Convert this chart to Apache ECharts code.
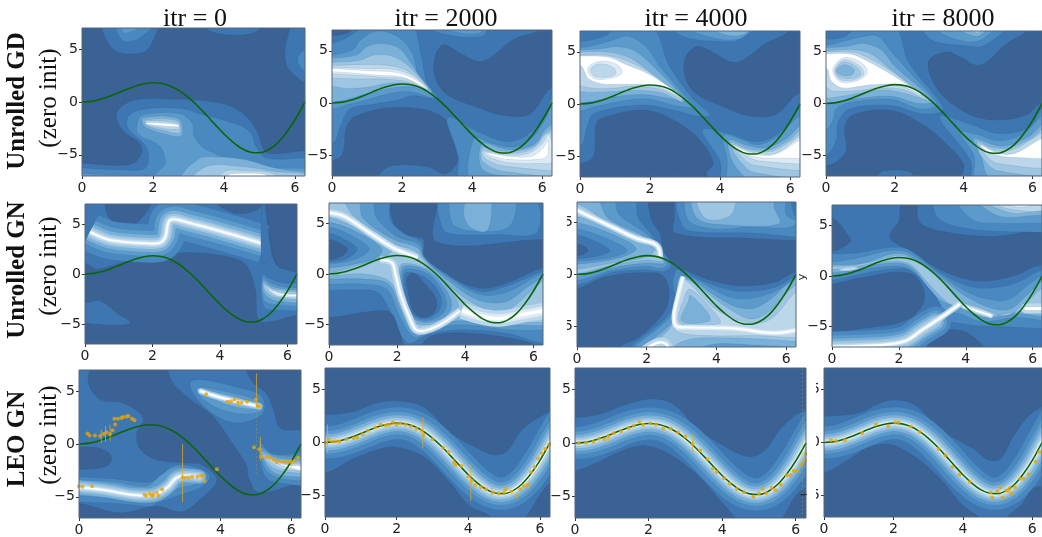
<!DOCTYPE html>
<html><head><meta charset="utf-8">
<style>html,body{margin:0;padding:0;background:#fff;overflow:hidden}#c{width:1042px;height:537px}</style>
<script src="https://cdn.jsdelivr.net/npm/echarts@6/dist/echarts.min.js"></script>
</head><body><div id="c"></div>
<script>
const columnTitles = ['itr = 0','itr = 2000','itr = 4000','itr = 8000'];
const xTicks = [0,2,4,6];
const yTicks = [-5,0,5];
const curveX = [0,.25,.5,.75,1,1.25,1.5,1.75,2,2.25,2.5,2.75,3,3.25,3.5,3.75,4,4.25,4.5,4.75,5,5.25,5.5,5.75,6,6.28];
const curveY = [0,.06,.24,.51,.84,1.19,1.5,1.72,1.82,1.75,1.5,1.05,.42,-.35,-1.23,-2.14,-3.03,-3.79,-4.4,-4.75,-4.8,-4.52,-3.9,-2.92,-1.68,0];
const curvePath = [[-.5,-.2]].concat(curveX.map((x,i)=>[x,curveY[i]]),[[6.9,3.6]]);
const all = [[-2,-9],[8,-9],[8,9],[-2,9]];

// contour regions per panel: [level, outline] or [level, ridge path, thickness in y units]
const gdItr0 = [
 [1,[[.6,7.5],[.92,4.9],[1.72,4.7],[2,5.8],[2.1,7.5]]],
 [2,[[.97,7.5],[1.15,5.8],[1.6,6],[2,7.5]]],
 [3,[[1.1,7.5],[1.2,6.5],[1.8,7.5]]],
 [1,[[3.3,7.5],[3.8,6.5],[4.8,6.5],[5.1,7.5]]],
 [1,[[6,7.5],[5.75,5.5],[5.75,3.6],[6,2.5],[6.28,1.9],[7,1.9],[7,7.5]]],
 [2,[[6.28,4.9],[6.08,4.2],[6.13,3.4],[6.28,3],[7,3],[7,4.9]]],
 [1,[[-1,-5.8],[0,-5.8],[.87,-6],[1.44,-5.8],[1.67,-4.9],[1.62,-3.9],[1.15,-2.7],[.97,-1.1],[1.44,.15],[2.66,.25],[3.7,0],[4.25,-.5],[4.72,-1.7],[4.96,-3],[5.1,-4.4],[5.3,-4.9],[6.28,-4.6],[7,-4.5],[7,-8],[-1,-8]]],
 [2,[[-1,-6.4],[.97,-6.4],[1.7,-6.4],[1.86,-5.8],[1.8,-4.2],[1.3,-2.5],[1.3,-1.4],[1.7,-.7],[2.75,-.6],[3.3,-1.1],[4.44,-2.2],[4.77,-3],[4.9,-4.2],[5.2,-5.3],[6.28,-5.3],[7,-5.3],[7,-8],[-1,-8]]],
 [3,[[-1,-6.9],[2,-6.9],[2.2,-6.4],[2.35,-5.8],[2.2,-4.2],[1.58,-3],[1.58,-1.7],[1.72,-1.2],[2.75,-1.1],[3.1,-2],[3.17,-3.3],[3.5,-4.5],[4.8,-6],[6.28,-6.3],[7,-6.3],[7,-8],[-1,-8]]],
 [4,[[3.2,-5.6],[3.4,-5.2],[4.5,-5.4],[5.5,-6.3],[6.3,-6.6],[7,-6.8],[7,-8],[2.7,-8],[2.95,-6.3]]],
 [5,[[3.5,-6.1],[4.5,-6.1],[5.5,-6.6],[6.3,-6.9],[6.3,-8],[3,-8]]],
 [6,[[4,-6.6],[4.6,-6.5],[5.4,-6.8],[5.6,-8],[3.8,-8]]],
 [8,[[4.1,-6.9],[4.6,-6.75],[5.2,-6.9],[5.2,-7.5],[4.1,-7.5]]],
 [4,[[1.72,-1.5],[2.72,-1.6],[2.8,-3.2],[2.3,-3],[1.75,-2.3]]],
 [5,[[1.78,-1.7],[2.7,-1.8],[2.75,-2.9],[2.3,-2.7],[1.8,-2.2]]],
 [6,[[1.8,-1.8],[2.7,-2],[2.72,-2.6],[1.85,-2.2]]],
 [8,[[1.82,-1.95],[2.72,-2.15],[2.72,-2.35],[1.82,-2.1]]]
];
const gdItr2000 = [
 [1,all],
 [0,[[3.18,5.6],[2.94,4.4],[2.94,2.5],[3.27,.85],[4.13,-.4],[4.9,-1.2],[5.66,-1.05],[6.28,1.5],[7,1.5],[7,8],[5.95,8],[5.9,7],[5.18,6.1],[4.3,4],[3.65,4.8]]],
 [0,[[-1,-5.5],[0,-5.5],[.3,-4.9],[.41,-2.3],[.7,-1.2],[1.94,-.4],[3.18,-1.4],[3.56,-4.9],[3.56,-5.8],[3.22,-6.8],[2.7,-6.1],[1.75,-6],[1.36,-6.8],[1.3,-8],[-1,-8]]],
 [0,[[-1,8],[.6,8],[.5,6.8],[-.2,6.6]]],
 [2,[[-1,5.7],[0,5.7],[.8,7.1],[.9,8],[2.2,8],[2.55,4.5],[2.7,2],[3,.5],[2.3,.7],[1.9,.3],[1.2,-.1],[.5,-.6],[.27,-2],[0,-3.9],[-1,-3.9]]],
 [3,[[-1,4.6],[0,4.6],[.6,5.1],[.8,6],[1.3,6.9],[1.9,6.3],[2.3,4.7],[2.5,2.2],[2.9,.55],[2.2,1.1],[1.5,.8],[1,.3],[.4,-.2],[0,-.6],[-1,-.6]]],
 [4,[[-1,4.3],[0,4.3],[.7,4.6],[1,5.4],[1.4,5.7],[1.9,5.3],[2.2,4.1],[2.5,2.6],[2.85,1],[2.3,1.55],[1.6,1.4],[1,.9],[.4,.3],[0,.1],[-1,.1]]],
 [5,[[-1,3.9],[0,3.9],[.8,4.1],[1.2,4.6],[1.7,4.5],[2.2,3.5],[2.75,1.3],[2.2,1.85],[1.6,1.9],[1,1.5],[.4,1.4],[0,1.6],[-1,1.6]]],
 [6,[[-1,3.6],[0,3.6],[1,3.7],[1.8,3.5],[2.3,2.8],[2.75,1.25],[2.2,2],[1.5,2.3],[.8,2.3],[0,2.4],[-1,2.4]]],
 [7,[[-1,3.4],[0,3.4],[1,3.3],[1.8,3.2],[2.3,2.6],[2.75,1.3],[2.1,2.3],[1.4,2.5],[.5,2.7],[0,2.8],[-1,2.8]]],
 [8,[[-1,3.3],[0,3.3],[1,3.1],[1.8,2.95],[2.3,2.4],[2.7,1.4],[2.05,2.45],[1.3,2.65],[.5,2.9],[0,3],[-1,3]]],
 [2,[[2.6,7.5],[3.2,6.6],[4.3,6.4],[4.4,7.5]]],
 [3,[[3,7.5],[3.5,6.8],[4.2,6.7],[4.35,7.5]]],
 [2,[[3.3,-1.4],[4.2,-2.8],[5,-3.7],[5.6,-3],[6.1,-1],[6.4,1.5],[7,1.5],[7,-8],[3.7,-8],[3.6,-5]]],
 [3,[[4.05,-8],[4.05,-3.4],[4.6,-3.9],[5.2,-4.2],[5.7,-3.4],[6.1,-1.5],[6.3,-.3],[7,-.3],[7,-8]]],
 [4,[[4.28,-3.9],[4.8,-4.3],[5.2,-4.5],[5.8,-3.9],[6.1,-2.5],[6.4,-2],[7,-2],[7,-7],[5,-7],[4.28,-6.3]]],
 [5,[[4.3,-4.3],[4.8,-4.6],[5.3,-4.6],[5.8,-4.1],[6.05,-3],[6.4,-2.4],[7,-2.4],[7,-6.6],[5,-6.6],[4.3,-5.6]]],
 [6,[[4.3,-4.6],[5,-4.85],[5.6,-4.6],[5.9,-3.9],[6.1,-3],[6.4,-2.8],[7,-2.8],[7,-6.1],[5,-6.1],[4.4,-5.4]]],
 [7,[[4.35,-4.7],[5,-5],[5.6,-4.85],[6,-3.9],[6.2,-3],[6.3,-5.6],[5.9,-5.8],[5,-5.7],[4.5,-5.2]]],
 [8,[[4.4,-4.75],[5,-5.1],[5.7,-5.1],[6.05,-4.2],[6.15,-3.5],[6.15,-5],[5.9,-5.4],[5,-5.4],[4.6,-5.1]]]
];
const gdItr4000 = [
 [1,all],
 [0,[[3.3,5.5],[3,4.4],[3,2.6],[3.3,1],[4.07,-.25],[4.83,-1.15],[5.6,-1],[6.25,1],[7,1],[7,8],[6,8],[5.97,7],[5.3,5.8],[4.45,4],[3.6,5.3]]],
 [0,[[-1,-5.7],[0,-5.7],[.38,-5],[.47,-1.85],[.76,-1.2],[1.9,-.6],[2.84,-1.85],[3.5,-3.75],[3.8,-5.7],[3.6,-6.6],[3.4,-8],[1.4,-8],[1.42,-7],[1.7,-6.3],[2.56,-6.3],[3.6,-6.6],[3.4,-8],[-1,-8]]],
 [2,[[-1,6],[0,6],[.76,6.6],[1,7.5],[2.04,7.5],[2.56,3.6],[3.25,.4],[3.7,-1],[3.4,-1.2],[2.8,-.7],[1.8,-.1],[.4,-.9],[.2,-2.2],[0,-4],[-1,-4]]],
 [3,[[-1,5.4],[0,5.4],[.5,5.7],[.9,6.1],[1.4,6.5],[1.9,5.4],[2.3,3.5],[3.1,.4],[3.25,-.3],[2.8,-.2],[1.8,.5],[.5,-.2],[0,-.7],[-1,-.7]]],
 [4,[[-1,5.2],[0,5.2],[.6,5.3],[1,5.5],[1.5,5.2],[2,3.9],[3,.3],[2.6,.5],[1.8,.9],[1,.7],[.4,.3],[0,.1],[-1,.1]]],
 [5,[[-1,5],[0,5],[.7,5],[1.3,4.6],[1.8,3.6],[2.95,.2],[2.3,1.1],[1.6,1.3],[1,1.2],[.3,1.1],[0,1.2],[-1,1.2]]],
 [6,[[-1,4.7],[0,4.7],[.7,4.7],[1.3,4.2],[2,3],[2.95,.4],[2.3,1.4],[1.5,1.7],[.9,1.5],[.2,1.6],[-1,3]]],
 [8,[[-1,4.6],[0,4.6],[.8,4.5],[1.3,3.8],[2,2.8],[2.9,.7],[2.2,1.7],[1.4,1.9],[.7,1.9],[.25,2.4],[0,3.7],[-1,3.7]]],
 [7,[[.22,3.4],[.55,4.1],[1.05,3.8],[1.2,3],[.9,2.5],[.4,2.45]]],
 [6,[[.3,3.3],[.55,3.85],[.95,3.5],[1.02,2.9],[.8,2.6],[.42,2.65]]],
 [2,[[3.5,-2.5],[4.2,-2.8],[5,-3.6],[5.6,-3],[6.1,-1.2],[6.4,0],[7,0],[7,-8],[4.1,-8],[4,-5.5]]],
 [3,[[4.1,-3],[4.6,-3.4],[5.1,-3.9],[5.7,-3],[6.1,-1.6],[6.4,-1],[7,-1],[7,-8],[4.3,-8],[4.2,-5.3]]],
 [4,[[4.25,-3.5],[4.8,-4],[5.3,-4.2],[5.9,-3.3],[6.4,-1.8],[7,-1.8],[7,-7.5],[5,-7.5],[4.4,-5.8]]],
 [5,[[4.3,-3.7],[4.8,-4.3],[5.4,-4.4],[6,-3.4],[6.4,-2.2],[7,-2.2],[7,-6.6],[5,-6.6],[4.5,-5.2]]],
 [6,[[4.35,-3.9],[4.9,-4.5],[5.5,-4.5],[6.1,-3.4],[6.4,-2.6],[7,-2.6],[7,-6],[5,-5.9],[4.6,-5]]],
 [7,[[4.4,-4],[5,-4.7],[5.6,-4.7],[6.4,-3],[7,-3],[7,-5.4],[5.2,-5.5],[4.7,-4.9]]],
 [8,[[4.5,-4.2],[5,-4.85],[5.6,-4.8],[6.4,-3.3],[7,-3.3],[7,-4.8],[5.4,-5.2],[4.8,-4.9]]],
 [2,[[2.6,7.5],[3,6.4],[4,6],[4.5,6.1],[5,7.5]]],
 [3,[[3,7.5],[3.5,6.6],[4.5,6.2],[4.9,7.5]]],
 [4,[[3.6,7.5],[4.2,6.6],[4.7,6.7],[4.9,7.5]]]
];
const gdItr8000 = [
 [1,all],
 [0,[[3.52,5],[3,4.2],[3.04,2.6],[3.42,.65],[4.2,-1.1],[5,-1.6],[5.83,-1.1],[6.22,0],[7,1],[7,8],[5.85,8],[5.83,7],[5.25,5.8],[4.48,3.7],[3.9,4.5]]],
 [0,[[-1,-6],[0,-6],[.35,-5.5],[.59,-4.5],[.54,-2.3],[.78,-1.1],[1.9,-.65],[2.85,-2.1],[3.5,-3.9],[4,-5.8],[3.95,-7],[3.9,-8],[2.9,-8],[2.4,-6.6],[1.7,-6.5],[1.5,-6.9],[1.3,-8],[-1,-8]]],
 [2,[[-1,6.2],[0,6.2],[.5,6.4],[1,7.5],[2,7.5],[2.4,4],[3.3,.2],[3.4,-.7],[2.8,-1],[1.9,-.2],[.7,-.5],[.35,-1.8],[.3,-3.5],[0,-5],[-1,-5]]],
 [3,[[-1,5.6],[0,5.6],[.5,6],[1,6.4],[1.5,6.5],[1.9,5],[2.3,3.5],[3.2,.2],[3.2,-.3],[2.7,-.5],[1.9,.4],[.7,.1],[.3,-.5],[.2,-1.6],[0,-2.5],[-1,-2.5]]],
 [4,[[-1,5.4],[0,5.4],[.6,5.5],[1.1,5.8],[1.6,5.2],[2,3.6],[3.1,.25],[2.7,0],[1.9,.7],[1,.5],[.4,.2],[0,-.1],[-1,-.1]]],
 [5,[[-1,5.1],[0,5.1],[.8,5.2],[1.3,4.8],[1.8,3.5],[3,.3],[2.3,1],[1.6,1.3],[.8,.9],[0,.5],[-1,.5]]],
 [6,[[-1,5],[0,5],[.8,4.95],[1.3,4.3],[2,2.9],[2.9,.4],[2.3,1.3],[1.6,1.5],[.8,1.2],[.2,1.2],[0,1.5],[-1,1.5]]],
 [8,[[-1,4.8],[0,4.8],[.7,4.8],[1.2,4.1],[1.9,2.8],[2.8,.8],[2.1,1.8],[1.3,1.8],[.5,1.5],[.15,2.2],[0,3.4],[-1,3.4]]],
 [7,[[.2,3.3],[.5,4.4],[1,4],[1.2,3],[.9,2.2],[.4,2.1]]],
 [6,[[.25,3.2],[.5,4.2],[.95,3.7],[1.1,2.9],[.85,2.3],[.4,2.3]]],
 [5,[[.28,3.2],[.5,4],[.9,3.5],[1,2.8],[.8,2.45],[.4,2.5]]],
 [4,[[.3,3.2],[.52,3.75],[.82,3.3],[.74,2.75],[.42,2.75]]],
 [2,[[3.3,-1.3],[4.2,-2],[5,-2.9],[5.9,-2.3],[6.4,-.1],[7,0],[7,-8],[4.3,-8],[4.2,-5.5]]],
 [3,[[3.9,-2.8],[4.4,-3],[5,-3.6],[5.7,-3],[6.4,-1],[7,-1],[7,-8],[4.4,-8],[4.3,-5]]],
 [4,[[4.3,-3.4],[4.8,-3.9],[5.2,-4.1],[5.9,-3.2],[6.4,-1.8],[7,-1.8],[7,-7.2],[4.8,-7.2],[4.5,-5]]],
 [5,[[4.4,-3.7],[4.8,-4.2],[5.3,-4.3],[6,-3.3],[6.4,-2.3],[7,-2.3],[7,-6.5],[5,-6.5],[4.5,-5]]],
 [6,[[4.45,-3.9],[4.9,-4.5],[5.4,-4.5],[6.1,-3.2],[6.4,-2.7],[7,-2.7],[7,-5.9],[5,-5.8],[4.6,-4.8]]],
 [8,[[4.5,-4],[5,-4.8],[5.5,-4.8],[6.4,-3.2],[7,-3.2],[7,-5],[5.4,-5.2],[4.7,-4.7]]],
 [2,[[2.8,7.5],[3.1,6.1],[4,5.6],[4.6,5.6],[5.2,7.5]]],
 [3,[[3.1,7.5],[3.6,6.4],[4.4,6],[4.9,7.5]]],
 [4,[[3.7,7.5],[4.4,6.5],[4.7,7.5]]],
 [5,[[4,7.5],[4.4,6.8],[4.55,7.5]]]
];
const gnSpread = [[2,3.8],[3,2.5],[4,1.7],[5,1.1],[6,.65],[7,.35],[8,.16]];
const gnRidge = [[.15,4.2],[.74,3.4],[1.63,3.1],[2.2,3.1],[2.38,3.7],[2.52,5.4],[3.1,5.1],[4.2,4.1],[5.3,3]];
const gnItr0 = [
 [1,[[-1,1.1],[0,1.1],[.35,.5],[.85,.9],[2,1.9],[2.6,2.1],[3.4,2.1],[4.4,1.6],[4.8,.8],[5.05,-1.6],[5.15,-4.6],[5.6,-4.7],[6.28,-4.1],[7,-4],[7,.3],[5.8,.6],[5.55,1.8],[5.35,6.7],[5.3,7.5],[-1,7.5]]],
 [0,[[.64,7.5],[.72,5.6],[1.14,4.8],[1.63,5.4],[1.95,7.5]]],
 [0,[[3.8,7.5],[4.4,6.1],[5.1,6.4],[5.3,7.5]]],
 [1,[[0,-2.9],[.45,-2.7],[.94,-3.9],[1.34,-4.9],[.74,-5.1],[0,-4.9],[-1,-4.5],[-1,-3]]],
 ...gnSpread.map(([l,s])=>[l,gnRidge,s]),
 [1,[[5.25,6.9],[5.33,6.6],[5.45,3.5],[5.5,1.6],[5.25,1.2]]],
 [0,[[5.35,8],[5.38,6.5],[5.5,3.5],[5.6,1.8],[5.8,.6],[7,.3],[7,8]]],
 [2,[[5.25,-.1],[5.5,-.5],[5.9,-.9],[6.4,-.9],[7,-1],[7,-3.4],[5.7,-3.6],[5.3,-3.3]]],
 [3,[[5.27,-.4],[5.5,-.9],[5.9,-1.3],[6.4,-1.4],[7,-1.4],[7,-3],[5.7,-3.1],[5.3,-2.6]]],
 [4,[[5.28,-.7],[5.5,-1.2],[5.9,-1.5],[6.4,-1.6],[7,-1.6],[7,-2.8],[5.7,-2.7],[5.32,-2]]],
 [5,[[5.3,-1],[5.6,-1.5],[6.4,-1.8],[7,-1.8],[7,-2.5],[5.7,-2.4],[5.35,-1.7]]],
 [7,[[5.35,-1.2],[5.7,-1.8],[6.4,-2],[7,-2],[7,-2.3],[5.7,-2.2]]],
 [8,[[5.4,-1.4],[5.8,-1.95],[6.4,-2.05],[7,-2.05],[7,-2.2],[5.8,-2.1]]]
];
const gn2000RidgeA = [[0,6.05],[.43,5.7],[1.2,4.05],[1.9,2.55],[2.37,1.9],[2.6,1.6]];
const gn2000RidgeB = [[1.5,1.4],[1.85,1.1],[1.95,0],[2.1,-2],[2.35,-4.2],[2.6,-5.6],[3.2,-5.1],[3.85,-3.6]];
const gn2000RidgeC = [[3.9,-3.6],[4.5,-4.2],[5,-4.4],[5.7,-4],[6.5,-3.5]];
const gnItr2000 = [
 [1,all],
 [0,[[1.84,8],[1.9,5],[2.28,3.9],[2.77,3.4],[2.8,1.75],[3.35,.1],[4.4,-1.4],[5.2,-.9],[6.28,.6],[7,.6],[7,3.3],[6.28,3.4],[3.15,3.2],[3.13,8]]],
 [2,[[3.3,7.5],[3.35,4.4],[3.74,3.9],[5,3.9],[6.1,4.1],[6,7.5]]],
 [3,[[3.6,7.5],[3.55,5.8],[3.7,4.7],[4.4,4.2],[5.3,4.7],[5.4,7.5]]],
 [4,[[4.1,7.5],[3.95,6],[4.15,4.6],[4.6,4.2],[4.75,5.4],[4.7,7.5]]],
 [2,[[-1,7.5],[1.7,7.5],[1.8,5.3],[2.2,4],[2.7,3.2],[2.8,1.7],[3.4,.1],[4.4,-1.7],[5.2,-1.2],[6.4,.4],[7,.4],[7,-6.8],[6.2,-6.8],[5.3,-5.9],[3.8,-5.5],[2.9,-6],[2.3,-6.8],[1.85,-4],[1.5,-2],[1.2,-1.6],[0,-1.6],[-1,-1.6]]],
 [3,[[-1,7.5],[1.2,7.5],[1.4,5.5],[2,3.7],[2.65,2.9],[2.8,1.6],[3.4,-.1],[4.4,-2],[5.2,-1.8],[6.1,-.2],[6.4,.2],[7,0],[7,-5],[6.3,-5.5],[5.3,-5.5],[3.8,-5],[3,-5.6],[2.5,-6.2],[2.05,-4],[1.7,-1.5],[1,-1],[0,-1],[-1,-1]]],
 [4,[[-1,7.5],[.8,7.5],[1,5.5],[1.9,3.4],[2.6,2.6],[2.8,1.5],[3.4,-.4],[4.4,-2.6],[5.2,-2.7],[5.9,-1.1],[6.4,-.2],[7,-.5],[7,-4.5],[5.3,-5],[3.8,-4.6],[3,-5.2],[2.5,-5.9],[2.1,-3.5],[1.75,-1],[1,-.5],[0,-.5],[-1,-.5]]],
 [5,[[-1,7.5],[.3,7.5],[.7,5.8],[1.8,3.1],[2.5,2.3],[2.8,1.3],[3.4,-.8],[4.4,-3.2],[5.2,-3.6],[5.9,-1.8],[6.4,-.5],[7,-1],[7,-4.2],[5.3,-4.7],[3.9,-4.2],[3,-5],[2.6,-5.6],[2.15,-3.5],[1.8,-.8],[1,0],[0,-.2],[-1,-.2]]],
 [4,[[-1,5.7],[0,5.6],[1,4.2],[1.85,2.6],[1.7,1.8],[.9,.9],[0,.1],[-1,.1]]],
 [3,[[-1,5],[0,5.1],[.9,4],[1.55,2.5],[1.4,1.6],[.8,1],[0,.6],[-1,.6]]],
 [2,[[-1,4.6],[0,4.6],[.6,3.9],[1.18,2.5],[.8,1.5],[0,1],[-1,1]]],
 [1,[[-1,4],[0,4],[.35,3.6],[.82,2.5],[.5,1.5],[0,1.2],[-1,1.2]]],
 [0,[[-1,3.4],[0,3.4],[.3,3.05],[.55,2.4],[.28,1.6],[0,1.4],[-1,1.4]]],
 [4,[[2.15,1],[2.9,.5],[3.4,-1],[3.8,-3],[3.6,-4.2],[2.9,-5],[2.4,-4.6],[2.15,-2.5],[2.05,-.2]]],
 [3,[[2.2,.8],[2.9,.3],[3.4,-1.4],[3.6,-3],[3.4,-4.2],[2.85,-4.8],[2.45,-4.3],[2.2,-2.3],[2.1,-.2]]],
 [2,[[2.25,.5],[2.9,0],[3.3,-1.5],[3.45,-3],[3.3,-4],[2.85,-4.6],[2.45,-4.1],[2.25,-2.2],[2.15,-.3]]],
 [1,[[2.3,.2],[2.85,-.4],[3.25,-2],[3.25,-3.5],[2.85,-4.4],[2.45,-3.9],[2.25,-2],[2.2,-.3]]],
 [0,[[2.47,.1],[2.8,-.9],[3.15,-2.5],[3.1,-3.7],[2.8,-4.3],[2.5,-3.8],[2.33,-1.9],[2.28,-.5]]],
 [0,[[-1,-4.3],[0,-4.3],[1.2,-3.7],[1.8,-3.8],[2.08,-5.8],[2.18,-7],[2.3,-8],[-1,-8]]],
 [0,[[2.7,-8],[2.9,-6.3],[3.84,-5.8],[5.3,-6.3],[6.07,-7],[6.3,-8]]],
 [6,gn2000RidgeA,.7],[7,gn2000RidgeA,.4],[8,gn2000RidgeA,.18],
 [6,gn2000RidgeB,.7],[7,gn2000RidgeB,.35],[8,gn2000RidgeB,.15],
 [6,gn2000RidgeC,1.6],[7,gn2000RidgeC,.9],[8,gn2000RidgeC,.35]
];
const gn4000RidgeA = [[0,6.2],[.5,5.4],[1,4.6],[1.7,3.5],[2.2,3],[2.35,2.5],[2.38,1.6]];
const gn4000RidgeC = [[3.04,-.2],[2.9,-2],[2.78,-4],[2.85,-5],[3.2,-5.1],[4.5,-5.2],[5.4,-5.6],[5.9,-5.6],[6.5,-5.2]];
const gn4000RidgeD = [[1.9,-7.4],[2.3,-6.6],[2.55,-6.7],[2.65,-7.4]];
const gnItr4000 = [
 [1,all],
 [0,[[2.09,8],[2.13,5.3],[2.37,4],[2.52,2],[2.76,1.1],[3.52,-.2],[4.38,-1],[4.96,-1.1],[5.72,-.7],[6.28,.25],[7,.25],[7,3.3],[6.28,3.3],[4.96,3.5],[2.8,4],[2.8,5.7],[2.7,8]]],
 [2,[[2.95,7.5],[3.04,4.6],[3.5,4.1],[5,4],[6.28,3.6],[7,3.5],[7,5.5],[6.3,5.5],[6,7.5]]],
 [3,[[3.2,7.5],[3.2,5.2],[4,4.4],[5,4.6],[6,4.5],[6.3,5],[6,5.8],[5.9,7.5]]],
 [4,[[3.35,7.5],[3.45,5.4],[4.2,4.8],[5.8,4.9],[5.65,6.5],[5.6,7.5]]],
 [5,[[3.45,7.5],[3.7,5.4],[4.4,5.7],[4.5,7.5]]],
 [0,[[-1,-1.35],[0,-1.35],[.84,-.2],[2.28,.15],[2.56,-.55],[2.64,-2.2],[2.47,-3.8],[1.8,-6],[1.22,-7],[1,-8],[-1,-8]]],
 [2,[[-1,7.5],[1.6,7.5],[1.75,5.5],[2.1,4],[2.45,2.2],[2.7,1],[2.5,.3],[2,.45],[1,.2],[0,-1],[-1,-1]]],
 [3,[[-1,7.5],[1,7.5],[1.2,5.8],[2,3.9],[2.4,2.2],[2.6,1],[2.4,.6],[2,.8],[1,.4],[0,-.6],[-1,-.6]]],
 [4,[[-1,7.5],[.5,7.5],[.9,5.4],[1.9,3.7],[2.37,2.2],[2.5,1.1],[2,1.1],[1,.65],[0,-.2],[-1,-.2]]],
 [5,[[-1,6.8],[0,6.8],[.8,5.2],[1.8,3.5],[2.35,2],[2.45,1.3],[2,1.4],[1,.9],[0,.1],[-1,.1]]],
 [4,[[-1,5.6],[0,5.6],[1,4.4],[2,3],[2.2,2.3],[2,1.7],[1,1.1],[0,.5],[-1,.5]]],
 [3,[[-1,5],[0,5],[1,3.9],[1.7,2.5],[1.2,1.6],[0,1],[-1,1]]],
 [2,[[-1,4.4],[0,4.4],[.9,3.4],[1.43,2.3],[.9,1.6],[0,1.3],[-1,1.3]]],
 [1,[[-1,3.8],[0,3.8],[.6,3.1],[.94,2.3],[.6,1.8],[0,1.5],[-1,1.5]]],
 [0,[[-1,3],[0,3],[.32,2.35],[0,1.8],[-1,1.8]]],
 [6,gn4000RidgeA,.6],[7,gn4000RidgeA,.35],[8,gn4000RidgeA,.18],
 [2,[[2.9,.5],[3.5,-.5],[4.4,-1.5],[5,-1.6],[5.7,-1.2],[6.4,0],[7,0],[7,-8],[1.4,-8],[2.6,-4],[2.8,-2.2],[2.75,-.6]]],
 [3,[[3,-.1],[4.4,-2.2],[5,-2.3],[5.7,-1.6],[6.4,-.2],[7,-.5],[7,-8],[1.5,-8],[2.7,-4],[2.85,-2]]],
 [4,[[3,-.2],[4.4,-2.9],[5,-3.3],[5.5,-2.5],[6.3,-.4],[7,-.7],[7,-8],[1.7,-8],[2.75,-4.5],[2.85,-2]]],
 [5,[[3.05,-.4],[4.4,-3.4],[5,-4.3],[5.5,-3.6],[6.3,-1],[7,-1],[7,-8],[1.9,-8],[2.7,-5],[2.88,-2.5]]],
 [6,[[3.05,-.5],[4,-3.4],[5,-4.7],[5.6,-4.2],[6.4,-1.4],[7,-1.8],[7,-5.6],[5,-5.9],[3.2,-5.8],[2.8,-5.2],[2.9,-2.5]]],
 [4,[[2.6,-8],[3,-6.5],[4,-6.1],[6.4,-6.5],[7,-7],[7,-8]]],
 [3,[[3.2,-8],[3.8,-6.8],[5,-6.8],[6.2,-7.2],[6.2,-8]]],
 [5,[[2.95,-4.7],[3.1,-2],[3.25,-1.4],[3.9,-3.5],[4.1,-4.7]]],
 [4,[[3,-4.5],[3.2,-2.5],[3.25,-2],[3.75,-3.7],[3.8,-4.5]]],
 [7,gn4000RidgeC,.45],[8,gn4000RidgeC,.18],
 [6,gn4000RidgeD,.9],[8,gn4000RidgeD,.25]
];
const gn8000Lower = [[-.5,-7],[1.5,-6.8],[2.2,-6.4],[2.7,-5.3],[3.1,-4.5]];
const gn8000Core = [[-.5,-7],[1.5,-6.8],[2.2,-6.4],[2.7,-5.3],[3.3,-4],[3.8,-2.8]];
const gnItr8000 = [
 [1,all],
 [0,[[2.15,8],[2.03,6.5],[2,5.4],[1.75,4.25],[1.75,3.6],[2.34,2.45],[3.22,.65],[4,-.3],[4.68,-.5],[5.56,.15],[6.15,1],[7,1],[7,3.9],[6.15,4.4],[4.78,3.9],[3.3,4.4],[2.6,5.4],[2.54,8]]],
 [0,[[-1,5.7],[0,5.7],[.54,3.75],[.54,3.3],[0,2.4],[-1,2.4]]],
 [2,[[3.12,7.5],[3.17,5.7],[4,4.7],[5,4.4],[6.4,4.3],[7,4.3],[7,7.5]]],
 [3,[[3.8,7.5],[4.2,5.55],[5,5.2],[6.15,5.2],[7,5.2],[7,7.5]]],
 [4,[[4.4,7.5],[5,5.9],[6.15,6],[7,6],[7,7.5]]],
 [5,[[4.55,7.5],[5.37,6.2],[6.15,6.4],[7,6.4],[7,7.5]]],
 [6,[[4.7,7.5],[5.3,6.6],[6.4,6.5],[6.6,7.5]]],
 [7,[[5,7.5],[5.5,6.8],[5.9,6.9],[6.1,7.5]]],
 [2,[[-1,2.2],[0,2.2],[.8,2.3],[1.7,2.8],[2.3,2.6],[3.2,.4],[4,-.9],[4.7,-1.2],[5.5,-.7],[6.3,.6],[7,.7],[7,-4.5],[5,-5],[3.9,-4.7],[3.3,-4.1],[3.2,-1.8],[2.5,.5],[1.5,.6],[0,-.4],[-1,-.4]]],
 [3,[[-1,1.5],[0,1.4],[.8,1.8],[1.7,2.5],[2.3,2.3],[3.2,.2],[4,-1.5],[4.7,-2.3],[5.3,-2.3],[5.9,-.8],[6.4,.2],[7,.2],[7,-4.2],[5.5,-4.1],[4.5,-4.5],[3.8,-3.7],[3.4,-3.4],[3.05,-1.8],[2.3,.7],[1.5,.9],[0,0],[-1,0]]],
 [4,[[-1,1.1],[.5,1.1],[1,1.3],[1.8,2.2],[2.3,2],[3.3,-.3],[4,-2],[4.7,-3.1],[5.3,-3.3],[5.8,-2],[6.4,-.3],[7,-.3],[7,-3.9],[5.5,-3.7],[4.6,-4.1],[3.9,-3.2],[3.3,-2.5],[2.9,-1.2],[2.3,1],[1.5,1.2],[.5,.5],[-1,.3]]],
 [5,[[-1,.9],[.5,1],[1.2,1.4],[1.9,2],[2.4,1.7],[3.3,-.6],[3.8,-2.4],[4.4,-3.1],[5.2,-3.9],[5.8,-2.6],[6.4,-1],[7,-1],[7,-3.4],[5.6,-3.5],[4.7,-3.9],[4,-3.2],[3.5,-2.7],[2.9,-.8],[2.3,1.2],[1.5,1.4],[.5,.8],[-1,.6]]],
 [6,[[.2,.6],[.5,.9],[.8,.8],[.5,.5]]],
 [0,[[-1,-.8],[0,-.8],[.88,-.15],[2.34,.25],[2.78,-2],[2.3,-4.25],[.88,-5.2],[0,-5.5],[-1,-5.5]]],
 [0,[[2.78,-8],[3.02,-5.9],[3.41,-5.3],[4.1,-5.7],[4.68,-8]]],
 [2,gn8000Lower,3],[3,gn8000Lower,2.2],[4,gn8000Lower,1.6],[5,gn8000Lower,1.1],
 [6,gn8000Core,.6],[7,gn8000Core,.35],[8,gn8000Core,.18],
 [6,[[3.95,-3],[4.3,-3.4],[4.75,-3.9]],.5],
 [8,[[3.95,-3],[4.3,-3.4],[4.75,-3.9]],.2],
 [6,[[5.8,-3.2],[6.5,-3.2]],1],
 [8,[[5.8,-3.2],[6.5,-3.2]],.3]
];
const leo0Upper = [[3.45,5],[3.9,4.5],[4.5,4],[5.1,3.55]];
const leo0Lower = [[-.5,-4],[0,-4.1],[.8,-4.4],[1.5,-4.8],[2.1,-4.8],[2.5,-4.1],[2.75,-3.2],[3,-3],[3.4,-3.1]];
const leoItr0 = [
 [1,[[-1,7.5],[.26,7.5],[.26,5.75],[.6,4.2],[1.25,3.85],[1.82,2.45],[1.63,1],[1.73,-.5],[2.2,-1.5],[3.05,-1.8],[3.5,-2],[3.9,-3.4],[3.42,-5.25],[2.9,-6.4],[2.2,-5.9],[1.16,-6.5],[0,-5.6],[-1,-5.6]]],
 [0,[[-1,-.3],[0,-.3],[.6,-.4],[.92,-1.2],[.78,-2.1],[0,-2.4],[-1,-2.4]]],
 [1,[[2.58,7.5],[2.62,6],[3.05,4.5],[3.8,2.6],[4.27,.4],[4.75,-2.1],[4.8,-3.2],[5.08,-4.6],[6.28,-3.7],[7,-3.6],[7,1.4],[6.28,1.35],[5.7,1.5],[5.5,3.2],[5.3,4.8],[4.93,5.75],[4.55,7.5]]],
 [2,[[3.14,5.75],[3.42,6.1],[4.55,5.3],[5.17,4.5],[5.2,2.9],[4.55,2],[3.9,2.6],[3.33,4.3]]],
 [3,[[3.33,5.3],[4.37,4.8],[5.15,3.9],[5.15,3.1],[4.4,2.9],[3.6,4]]],
 [4,[[3.42,5.1],[4.37,4.5],[5.12,3.7],[5.12,3.3],[4.37,3.55],[3.8,4.25]]],
 [5,leo0Upper,.6],[7,leo0Upper,.35],[8,leo0Upper,.16],
 [2,[[-1,-3],[0,-3.1],[1,-3.3],[2,-3.6],[2.4,-2.7],[2.7,-2],[3.3,-2.2],[3.7,-3],[3.5,-4],[2.8,-4.9],[2.2,-5.6],[2,-5.9],[1,-5.6],[0,-5.5],[-1,-5.5]]],
 [3,[[-1,-3.3],[0,-3.4],[1,-3.6],[1.9,-4],[2.3,-3],[2.7,-2.2],[3.2,-2.4],[3.55,-3],[3.3,-3.8],[2.8,-4.2],[2.3,-5.4],[1.8,-5.6],[1,-5.2],[0,-4.9],[-1,-4.9]]],
 [4,leo0Lower,1.3],[5,leo0Lower,.9],[6,leo0Lower,.55],[7,leo0Lower,.3],[8,leo0Lower.slice(0,8),.14],
 [2,[[5.1,.3],[5.4,-.8],[5.8,-1],[6.4,-.7],[7,-.7],[7,-3.6],[5.5,-3.6],[5.2,-2.6]]],
 [3,[[5.12,-.3],[5.5,-1],[6.4,-1.2],[7,-1.2],[7,-3.2],[5.8,-3.3],[5.3,-2.5]]],
 [4,[[5.15,-.7],[5.6,-1.3],[6.4,-1.5],[7,-1.5],[7,-2.9],[5.8,-3],[5.4,-2.4]]],
 [5,[[5.2,-1],[5.7,-1.6],[6.4,-1.7],[7,-1.7],[7,-2.7],[5.8,-2.6],[5.4,-2]]],
 [6,[[5.3,-1.3],[5.8,-1.8],[6.4,-1.9],[7,-2],[7,-2.6],[5.8,-2.4],[5.5,-1.9]]],
 [8,[[5.6,-1.8],[5.9,-2],[6.3,-2.1],[6.4,-2.5],[6,-2.3]]]
];
const bandSpread = [[2,3],[3,2.1],[4,1.5],[5,1],[6,.6],[7,.35]];
const leoItr2000 = [
 [1,[[-1,2.6],[0,2.6],[.8,2.9],[1.44,3.7],[2,3.9],[2.74,3.35],[3.5,.9],[4.23,-.5],[4.7,-1.15],[5.07,-.85],[5.53,1.3],[6.28,2.9],[7,3.5],[7,-3],[6.28,-3.8],[5.63,-6.9],[5.4,-8],[4.7,-8],[4.6,-6.9],[4.05,-6],[3.5,-3.8],[2.74,-1.3],[1.9,-.4],[1.44,-.7],[.8,-1.5],[0,-2.9],[-1,-3.5]]],
 ...bandSpread.map(([l,s])=>[l,curvePath,s]),
 [8,curvePath.slice(21),.3]
];
const leoItr4000 = [
 [1,[[-1,2.2],[0,2.35],[.68,2.7],[1.32,3.5],[2.05,4.1],[2.68,3.6],[3.32,1.35],[3.86,.1],[4.68,-1.25],[5.13,-.8],[5.6,1.35],[6.14,2.9],[7,3.8],[7,-3.5],[6.14,-4.45],[5.6,-7.2],[5.4,-8],[4.6,-8],[4.41,-7.2],[3.86,-5],[3.4,-3.2],[2.6,-1.1],[1.95,-.25],[1.32,-.65],[.68,-1.7],[0,-2.6],[-1,-3]]],
 ...bandSpread.map(([l,s])=>[l,curvePath,s]),
 [8,curvePath.slice(23),.2]
];
const leoItr8000 = [
 [1,[[-1,2.4],[0,2.45],[1.04,2.8],[1.5,3.55],[1.96,4],[2.6,3.55],[3.35,1.2],[4.28,-.55],[4.74,-1.65],[5.1,-1.5],[5.48,.7],[6.05,2.9],[7,4],[7,-3.5],[6.05,-4.3],[5.67,-5.9],[5.2,-7.2],[5.1,-8],[4.7,-8],[4.55,-7.2],[4,-5.9],[3.35,-3.4],[2.6,-1.3],[1.87,-.15],[1.22,-.55],[.76,-1.5],[0,-2.85],[-1,-3.3]]],
 ...bandSpread.map(([l,s])=>[l,curvePath,s]),
 [8,curvePath.slice(19),.15]
];
// sampled model points and their vertical spreads, bottom row
const samplesLeo0 = [[.24,1],[.3,.8],[.45,.8],[.6,.75],[.7,.95],[.78,1.1],[.88,.95],[.95,1.3],[1,2.4],[1.02,1.85],[1.1,2.4],[1.2,2.45],[1.25,2.55],[1.35,2.6],[1.4,2.65],[1.5,2.4],[1.57,2.25],[0,-4],[.1,-4.05],[.37,-4],[1.85,-4.8],[1.9,-4.9],[2,-4.7],[2.05,-4.9],[2.1,-4.8],[2.2,-4.6],[2.25,-4.9],[2.35,-4.3],[2.93,-3.15],[3,-3.2],[3.1,-3.2],[3.2,-3.1],[3.35,-3.1],[3.45,-3],[3.5,-3],[3.55,-3.5],[3.9,-2.4],[3.6,4.7],[4.2,4],[4.3,4.05],[4.4,4.2],[4.5,3.9],[4.6,3.9],[4.75,4],[5,4.2],[5.05,3.6],[5.1,3.55],[4.95,-.3],[5.1,-.5],[5.15,-1.2],[5.3,-1.2],[5.4,-1.3],[5.5,-1.5],[5.6,-1.7],[5.7,-1.6],[5.8,-1.7],[5.9,-1.7],[6,-1.7],[6.1,-1.6],[6.2,-1.3]];
const barsLeo0 = [[.63,.1,1.4],[.75,.2,1.7],[.88,.3,1.8],[2.1,-5.5,-4],[2.93,-5.5,-1.2],[2.93,-1.2,0],[5.02,3.5,6.7],[5.02,-2.8,3.5],[4.5,3.5,4.4],[5.13,-1.6,.7],[5.55,-1.9,-1.2],[6,-2.2,-1.4]];
const samplesLeo2000 = [[.02,0],[.1,.3],[.2,.1],[.3,.12],[.4,.1],[.6,.3],[.8,.4],[.9,.5],[1.05,.75],[1.2,1.1],[1.4,1.4],[1.55,1.7],[1.7,1.6],[1.8,1.7],[1.9,1.9],[2,1.7],[2.1,1.8],[2.25,1.7],[2.4,1.5],[2.55,1.3],[2.7,1.1],[2.75,.7],[3,.3],[3.3,-.5],[3.45,-.9],[3.6,-1.9],[3.65,-2.1],[3.8,-2.2],[4,-3.2],[4.1,-3.6],[4.2,-4],[4.35,-4.2],[4.5,-4.4],[4.7,-4.7],[4.85,-4.8],[5,-4.7],[5.05,-4.4],[5.2,-4.6],[5.35,-5],[5.45,-4.4],[5.55,-4.1],[5.65,-4],[5.75,-2.8],[5.85,-2.3],[5.95,-1.5],[6.05,-1],[6.15,-.6],[6.25,-.2]];
const barsLeo2000 = [[.07,-1,1.7],[2.73,-.5,2.4],[3.6,-2.3,-1.4],[4.07,-5.5,-2.1],[4.65,-5,-4.2],[5.7,-4.4,-3.4],[6.27,-.6,1]];
const samplesLeo4000 = [[.1,0],[.3,.05],[.5,.1],[.65,.4],[.8,.35],[.9,.6],[1.05,.9],[1.25,1.1],[1.45,1.4],[1.6,1.6],[1.75,1.95],[1.85,1.7],[2.05,1.85],[2.2,1.75],[2.4,1.35],[2.6,1.35],[2.8,1],[3,.6],[3.2,-.1],[3.4,-.7],[3.6,-1.5],[3.75,-2.4],[3.85,-2.7],[4.05,-3.3],[4.2,-3.8],[4.4,-4.3],[4.6,-4.6],[4.85,-5],[5,-4.7],[5.1,-4.3],[5.2,-4.7],[5.35,-4.2],[5.45,-4.4],[5.6,-3.9],[5.75,-3],[5.85,-3],[5.95,-2.6],[6.05,-2.6],[6.15,-2],[6.25,-1.6],[6.28,-1]];
const barsLeo4000 = [[.9,0,.9],[3.2,-.9,.8],[6.18,-7,7]];
const samplesLeo8000 = [[.2,.2],[.35,.15],[.6,.2],[1.1,.9],[1.5,1.7],[1.85,1.55],[2.05,1.9],[2.15,1.9],[2.5,1.5],[2.75,1],[3.3,-.6],[3.5,-1.2],[3.7,-2.3],[3.9,-3],[4.2,-3.7],[4.8,-4.7],[4.85,-5.2],[5,-4.6],[5.08,-4.2],[5.15,-5.2],[5.25,-4.5],[5.3,-4.5],[5.35,-4.3],[5.4,-4.8],[5.5,-4.2],[5.65,-3.4],[5.75,-3.4],[5.9,-3],[6.1,-1.8],[6.2,-.9]];
const barsLeo8000 = [];

const levelColors = ['#3a6294','#3d76b0','#4a88c0','#5b9acb','#7bb1d8','#9ec6e2','#bcd7ea','#dceaf5','#ffffff'];
const panels = [
 {box:[82,305,28,176],shapes:gdItr0},{box:[332,552,30,176],shapes:gdItr2000},{box:[580,800,31,177],shapes:gdItr4000},{box:[826,1044,31,176],shapes:gdItr8000},
 {box:[85,297,204,344],shapes:gnItr0},{box:[329,543,203,345],shapes:gnItr2000},{box:[577,796,202,347],shapes:gnItr4000},{box:[832,1046,205,347],shapes:gnItr8000,round:true},
 {box:[79,301,370,518],shapes:leoItr0,samples:samplesLeo0,bars:barsLeo0,round:true},{box:[325,550,368,517],shapes:leoItr2000,samples:samplesLeo2000,bars:barsLeo2000},{box:[575,806,368,520],shapes:leoItr4000,samples:samplesLeo4000,bars:barsLeo4000},{box:[824,1050,368,517],shapes:leoItr8000,samples:samplesLeo8000,bars:barsLeo8000}
];
const labelFont = {fontFamily:'DejaVu Sans',fontSize:14,color:'#222'};
const grid=[],xAxis=[],yAxis=[],series=[];
panels.forEach((p,i)=>{
  const [l,r,t,b]=p.box;
  grid.push({left:l,top:t,width:r-l,height:b-t,backgroundColor:levelColors[0],show:true,borderWidth:0});
  xAxis.push({type:'value',gridIndex:i,min:0,max:6.28,splitLine:{show:false},axisLine:{show:false,onZero:false},
    axisTick:{customValues:xTicks,length:3,lineStyle:{color:'#333'}},
    axisLabel:{customValues:xTicks,margin:5,...labelFont}});
  yAxis.push({type:'value',gridIndex:i,min:-7,max:7,splitLine:{show:false},axisLine:{show:false,onZero:false},
    axisTick:{customValues:yTicks,length:3,lineStyle:{color:'#333'}},
    axisLabel:{customValues:yTicks,margin:4,...labelFont,formatter:v=>v<0?'\u2212'+(-v):String(v)}});
  series.push({type:'custom',xAxisIndex:i,yAxisIndex:i,clip:true,silent:true,z:1,data:[[0,0]],encode:{x:0,y:1},
    renderItem:(params,api)=>{
      const unit=Math.abs(api.coord([0,1])[1]-api.coord([0,0])[1]);
      return {type:'group',children:p.shapes.map(s=>{
        const pts=s[1].map(q=>api.coord(q));
        const c=levelColors[s[0]];
        return s.length>2
          ?{type:'polyline',shape:{points:pts,smooth:.35},style:{fill:null,stroke:c,lineWidth:s[2]*unit,lineJoin:'round',lineCap:p.round?'round':'butt'}}
          :{type:'polygon',shape:{points:pts,smooth:.35},style:{fill:c,stroke:'rgba(40,80,130,.25)',lineWidth:.5}};
      })};
    }});
  series.push({type:'line',xAxisIndex:i,yAxisIndex:i,z:3,data:curveX.map((x,k)=>[x,curveY[k]]),smooth:.3,showSymbol:false,silent:true,lineStyle:{color:'#0b660b',width:1.6}});
  if(p.bars&&p.bars.length) series.push({type:'custom',xAxisIndex:i,yAxisIndex:i,clip:true,silent:true,z:4,data:p.bars,encode:{x:0,y:[1,2]},
    renderItem:(params,api)=>{
      const a=api.coord([api.value(0),api.value(1)]),c=api.coord([api.value(0),api.value(2)]);
      const tall=Math.abs(api.value(2)-api.value(1))>6;
      return {type:'line',shape:{x1:a[0],y1:a[1],x2:c[0],y2:c[1]},style:{stroke:'#e0a81c',lineWidth:1,opacity:tall?.55:.75,lineDash:tall?[1,3]:null}};
    }});
  if(p.samples) series.push({type:'scatter',xAxisIndex:i,yAxisIndex:i,z:5,silent:true,data:p.samples,symbolSize:4,itemStyle:{color:'#e5a50a'}});
  series.push({type:'custom',xAxisIndex:i,yAxisIndex:i,clip:false,silent:true,z:6,data:[[0,-7,6.28,7]],encode:{x:[0,2],y:[1,3]},
    renderItem:(params,api)=>{
      const a=api.coord([api.value(0),api.value(3)]),c=api.coord([api.value(2),api.value(1)]);
      return {type:'rect',shape:{x:a[0],y:a[1],width:c[0]-a[0],height:c[1]-a[1]},style:{fill:null,stroke:'#55667a',lineWidth:1}};
    }});
});
const titleX=[190,441,691,938];
const title=columnTitles.map((t,i)=>({text:t,left:titleX[i],top:1,textAlign:'center',textStyle:{fontFamily:'Liberation Serif',fontSize:26,fontWeight:'normal',color:'#111'}}));
const rowText=(text,x,y,bold,size)=>({type:'text',x,y,rotation:Math.PI/2,z:100,style:{text,fill:'#111',font:(bold?'bold ':'')+size+'px "Liberation Serif"',textAlign:'center',textVerticalAlign:'middle'}});
const graphic=[
 {type:'rect',z:100,shape:{x:544,y:208,width:23,height:135},style:{fill:'#fff'}},
 {type:'rect',z:100,shape:{x:807,y:374,width:9,height:130},style:{fill:'#fff'}},
 rowText('Unrolled GD',18,101,true,25),rowText('(zero init)',49,98,false,25),
 rowText('Unrolled GN',18,270,true,25),rowText('(zero init)',49,266,false,25),
 rowText('LEO GN',18,439,true,25),rowText('(zero init)',49,435,false,25),
 {type:'text',x:802,y:277,rotation:Math.PI/2,z:100,style:{text:'y',fill:'#222',font:'11px "DejaVu Sans"',textAlign:'center',textVerticalAlign:'middle'}}
];
const chart=echarts.init(document.getElementById('c'),null,{renderer:'canvas'});
chart.setOption({animation:false,backgroundColor:'#fff',title,grid,xAxis,yAxis,series,graphic});
</script></body></html>
